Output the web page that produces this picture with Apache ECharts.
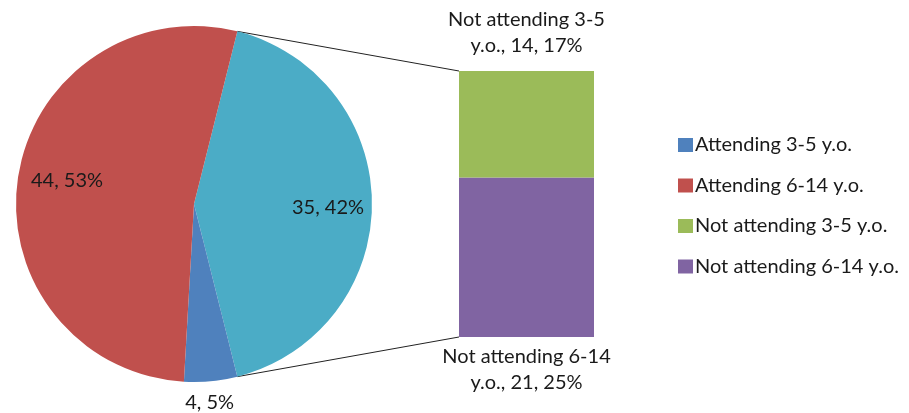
<!DOCTYPE html>
<html><head><meta charset="utf-8">
<script src="https://cdn.jsdelivr.net/npm/echarts@6/dist/echarts.min.js"></script>
<style>html,body{margin:0;padding:0;background:#fff}#c{width:909px;height:413px}</style>
</head><body><div id="c"></div>
<script>
// Data
const pieNames = ['Not attending', 'Attending 3-5 y.o.', 'Attending 6-14 y.o.'];
const pieValues = [35, 4, 44];
const barNames = ['Not attending 6-14 y.o.', 'Not attending 3-5 y.o.'];
const barValues = [21, 14];
const legendNames = ['Attending 3-5 y.o.', 'Attending 6-14 y.o.', 'Not attending 3-5 y.o.', 'Not attending 6-14 y.o.'];

const colors = {
  'Not attending': '#4BACC6',
  'Attending 3-5 y.o.': '#4F81BD',
  'Attending 6-14 y.o.': '#C0504D',
  'Not attending 3-5 y.o.': '#9BBB59',
  'Not attending 6-14 y.o.': '#8064A2'
};
const FONT = 'Lato';
const FS = 20;
const total = pieValues.reduce((a, b) => a + b, 0);
const barTotal = barValues.reduce((a, b) => a + b, 0);
const startAngle = 180 * pieValues[0] / total;
const labelOffsets = [[42, 4], [7, 107], [-36, -10]];

const chart = echarts.init(document.getElementById('c'), null, {renderer: 'canvas'});
const option = {
  animation: false,
  textStyle: {fontFamily: FONT},
  legend: {
    data: legendNames,
    orient: 'vertical',
    left: 673, top: 130,
    itemWidth: 15, itemHeight: 14, itemGap: 20.5,
    icon: 'rect',
    textStyle: {fontFamily: FONT, fontSize: FS, color: '#1a1a1a', padding: [0, 0, 0, -3]}
  },
  grid: {left: 459, top: 71, width: 135, height: 266},
  xAxis: {type: 'category', data: ['x'], show: false},
  yAxis: {type: 'value', min: 0, max: barTotal, show: false},
  series: [
    {
      type: 'pie',
      center: [194, 204],
      radius: 178,
      startAngle: startAngle,
      clockwise: true,
      percentPrecision: 0,
      labelLine: {show: false},
      data: pieNames.map((n, i) => ({
        name: n, value: pieValues[i],
        itemStyle: {color: colors[n]},
        label: {
          show: true, position: 'inside', offset: labelOffsets[i],
          formatter: '{c}, {d}%',
          fontFamily: FONT, fontSize: FS, color: '#1a1a1a'
        }
      }))
    },
    ...barNames.map((n, i) => ({
      type: 'bar', name: n, stack: 's', barWidth: '100%',
      itemStyle: {color: colors[n]},
      data: [barValues[i]],
      label: {
        show: true,
        position: i === 0 ? 'bottom' : 'top',
        distance: i === 0 ? 7 : 12,
        fontFamily: FONT, fontSize: FS, color: '#1a1a1a', lineHeight: 26,
        align: 'center',
        formatter: p => n.replace(' y.o.', '\ny.o.') + ', ' + p.value + ', ' + Math.round(p.value / total * 100) + '%'
      }
    }))
  ]
};
chart.setOption(option);

// Connector lines from the pie's "Not attending" slice edges to the stacked bar
const pieLayout = chart.getModel().getSeriesByIndex(0).getData().getItemLayout(0);
const topBar = chart.getModel().getSeriesByIndex(2).getData().getItemLayout(0);
const botBar = chart.getModel().getSeriesByIndex(1).getData().getItemLayout(0);
function pt(a) { return [pieLayout.cx + pieLayout.r * Math.cos(a), pieLayout.cy + pieLayout.r * Math.sin(a)]; }
const a1 = Math.min(pieLayout.startAngle, pieLayout.endAngle);
const a2 = Math.max(pieLayout.startAngle, pieLayout.endAngle);
const p1 = pt(a1), p2 = pt(a2);
const barTopY = Math.min(topBar.y, topBar.y + topBar.height);
const barBotY = Math.max(botBar.y, botBar.y + botBar.height);
const barLeftX = Math.min(topBar.x, topBar.x + topBar.width);
chart.setOption({
  graphic: [
    {type: 'line', shape: {x1: p1[0], y1: p1[1], x2: barLeftX, y2: barTopY}, style: {stroke: '#222', lineWidth: 1}},
    {type: 'line', shape: {x1: p2[0], y1: p2[1], x2: barLeftX, y2: barBotY}, style: {stroke: '#222', lineWidth: 1}}
  ]
});
</script>
</body></html>
